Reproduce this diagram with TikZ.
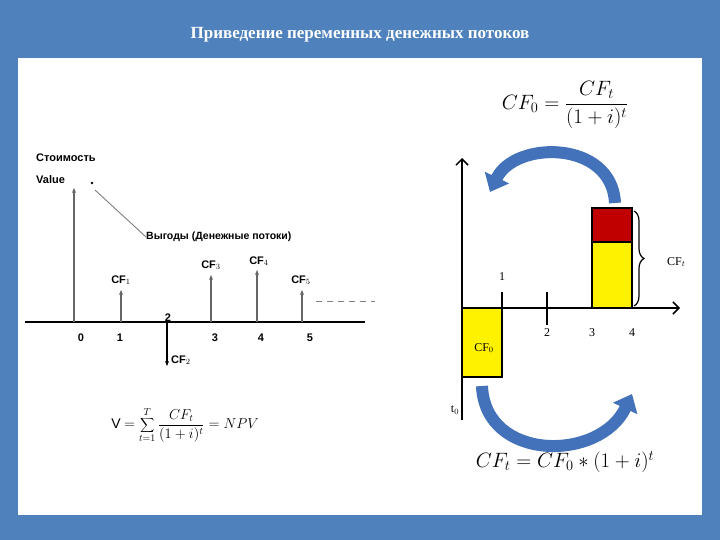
\documentclass[tikz,border=0pt]{standalone}
\usepackage{fontspec}
\setmainfont{Liberation Serif}
\newfontfamily\arialf{Liberation Sans}
\usetikzlibrary{arrows.meta,decorations.pathreplacing}
\definecolor{frameblue}{RGB}{79,129,189}
\definecolor{arrowblue}{RGB}{68,114,186}
\definecolor{darkred}{RGB}{192,0,0}
\tikzset{
 garrow/.style={draw=gray!80!black,line width=1.2pt,-{Stealth[length=5pt,width=4pt]}},
 lbl/.style={font=\arialf\bfseries\fontsize{11}{12}\selectfont,inner sep=0pt},
 num/.style={font=\fontsize{12}{13}\selectfont,inner sep=0pt},
 bigarrow/.style={draw=arrowblue,line width=12pt,-{Triangle[length=16pt,width=26pt]}},
 ax/.style={line width=1.5pt}
}
\begin{document}
\begin{tikzpicture}[x=1pt,y=-1pt]
\fill[frameblue] (0,0) rectangle (720,540);
\fill[white] (18,58) rectangle (702,515);
\useasboundingbox (0,0) rectangle (720,540);
\node[text=white,font=\bfseries\fontsize{17}{20}\selectfont] (title) at (360,35) {Приведение переменных денежных потоков};
% left diagram
\coordinate (axl) at (25,322); \coordinate (axr) at (365,322);
\draw[line width=2.5pt] (axl) -- (axr);
\coordinate (b0) at (74,322); \coordinate (t0) at (74,188);
\coordinate (b1) at (121,322); \coordinate (t1) at (121,290);
\coordinate (b2) at (167,322); \coordinate (t2) at (167,366);
\coordinate (b3) at (211,322); \coordinate (t3) at (211,275);
\coordinate (b4) at (257,322); \coordinate (t4) at (257,270);
\coordinate (b5) at (302,322); \coordinate (t5) at (302,290);
\draw[garrow] (b0)--(t0); \draw[garrow] (b1)--(t1); \draw[garrow] (b3)--(t3);
\draw[garrow] (b4)--(t4); \draw[garrow] (b5)--(t5);
\draw[line width=1.2pt,-{Stealth[length=5pt,width=4pt]}] (b2)--(t2);
\draw[gray,line width=1pt,dashed,dash pattern=on 6pt off 5pt] (316,301) -- (375,301);
\node[lbl,anchor=west] (cost) at (36,158) {Стоимость};
\node[lbl,anchor=west] (val) at (36,180) {Value};
\fill (92,183) circle (1.3pt);
\node[lbl,anchor=west,font=\arialf\bfseries\fontsize{10.5}{12}\selectfont] (ben) at (146,237) {Выгоды (Денежные потоки)};
\draw[gray,line width=0.9pt] (95,190) -- (ben.west);
\node[lbl] (l0) at (81,338) {0}; \node[lbl] (l1) at (120,338) {1};
\node[lbl] (l2) at (168,318) {2}; \node[lbl] (l3) at (215,338) {3};
\node[lbl] (l4) at (261,338) {4}; \node[lbl] (l5) at (310,338) {5};
\node[lbl] (c1) at (121,280) {CF$_1$}; \node[lbl] (c3) at (211,265) {CF$_3$};
\node[lbl] (c4) at (259,261) {CF$_4$}; \node[lbl] (c5) at (301,280) {CF$_5$};
\node[lbl,anchor=west] (c2) at (171,360) {CF$_2$};
\node[font=\fontsize{14}{16}\selectfont] (npv) at (185,425) {{\arialf V} $= \displaystyle\sum_{t=1}^{T}\frac{CF_t}{(1+i)^t} = NPV$};
% right diagram
\coordinate (o) at (462,308); \coordinate (ytop) at (462,158); \coordinate (ybot) at (462,420);
\coordinate (xend) at (680,308);
\fill[yellow,draw=black,line width=1.3pt] (462,308) rectangle (502,377);
\node[num] (cf0) at (484,348) {CF$_0$};
\fill[yellow,draw=black,line width=1.3pt] (592,242) rectangle (632,308);
\fill[darkred,draw=black,line width=1.3pt] (592,208) rectangle (632,242);
\draw[ax,-{Straight Barb[length=6pt]}] (ybot) -- (ytop);
\draw[ax,-{Straight Barb[length=6pt]}] (o) -- (xend);
\draw[ax] (502,292) -- (502,308); \draw[ax] (547,292) -- (547,325);
\node[num] (n1) at (502,277) {1}; \node[num] (n2) at (547,333) {2};
\node[num] (n3) at (592,333) {3}; \node[num] (n4) at (632,333) {4};
\node[num] (tt) at (455,410) {t$_0$};
\draw[line width=1.2pt,decorate,decoration={brace,amplitude=10pt}] (634,211) -- (634,306);
\node[num,anchor=west] (cft) at (667,262) {CF$_t$};
\draw[bigarrow] (615,203) .. controls (612,140) and (515,140) .. (490,192);
\draw[bigarrow] (482,386) .. controls (485,462) and (600,462) .. (632,394);
\node[font=\fontsize{22}{26}\selectfont] (f1) at (565,105) {$CF_0=\displaystyle\frac{CF_t}{(1+i)^t}$};
\node[font=\fontsize{22}{26}\selectfont] (f2) at (565,462) {$CF_t=CF_0*(1+i)^t$};
\end{tikzpicture}
\end{document}
